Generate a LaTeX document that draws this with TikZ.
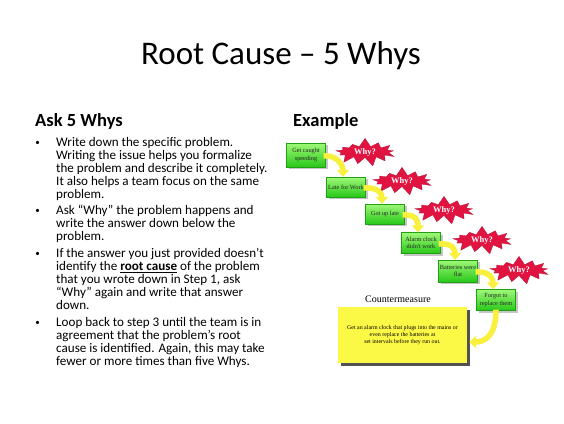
\documentclass[tikz,border=0pt]{standalone}
\usepackage{fontspec}
\setmainfont{Carlito}
\newfontfamily\serif{Liberation Serif}
\usetikzlibrary{shapes.symbols,arrows.meta,shadows,calc}
\definecolor{gtop}{RGB}{160,248,120}
\definecolor{gbot}{RGB}{40,200,25}
\definecolor{crim}{RGB}{225,20,65}
\definecolor{yel}{RGB}{248,240,60}
\definecolor{ybox}{RGB}{252,248,70}
\tikzset{
  greenbox/.style={rectangle, minimum width=39pt, minimum height=21pt, inner sep=1pt,
    top color=gtop, bottom color=gbot, draw=gbot!80!black, line width=0.3pt,
    drop shadow={shadow xshift=2pt, shadow yshift=-2pt, opacity=0.45},
    font=\serif\fontsize{6.3}{7.3}\selectfont, align=center, text=black!85},
  whystar/.style={starburst, starburst points=13, starburst point height=9pt,
    random starburst=7, fill=crim, draw=crim!80!black, line width=0.3pt,
    inner xsep=6pt, inner ysep=0pt,
    font=\serif\bfseries\fontsize{8.5}{9}\selectfont, text=white},
  yarrow/.style={draw=yel, line width=5.5pt, -{Triangle[width=12pt,length=7pt]}},
  bodyline/.style={anchor=base west, inner sep=0pt, font=\fontsize{13.1}{13}\selectfont},
  bullet/.style={anchor=base, inner sep=0pt, font=\fontsize{9}{13}\selectfont},
  heading/.style={anchor=base west, inner sep=0pt, font=\bfseries\fontsize{18.5}{22}\selectfont}
}
\begin{document}
\begin{tikzpicture}[x=1pt,y=-1pt]
\useasboundingbox (0,0) rectangle (564,423);
\fill[white] (0,0) rectangle (564,423);

\node[anchor=base, inner sep=0pt, font=\fontsize{33}{40}\selectfont] (title) at (281,64) {Root Cause – 5 Whys};
\node[heading] (ask) at (35,126) {Ask 5 Whys};
\node[heading] (ex) at (293,126) {Example};

\foreach \yy/\tx [count=\i] in {
 146/{Write down the specific problem.},
 159/{Writing the issue helps you formalize},
 172/{the problem and describe it completely.},
 185/{It also helps a team focus on the same},
 198/{problem.},
 214.7/{Ask “Why” the problem happens and},
 227.7/{write the answer down below the},
 240.7/{problem.},
 257.3/{If the answer you just provided doesn’t},
 270.3/{identify the \textbf{\underline{root cause}} of the problem},
 283.3/{that you wrote down in Step 1, ask},
 296.3/{“Why” again and write that answer},
 309.3/{down.},
 326/{Loop back to step 3 until the team is in},
 339/{agreement that the problem’s root},
 352/{cause is identified. Again, this may take},
 365/{fewer or more times than five Whys.}}
 {\node[bodyline] (l\i) at (56,\yy) {\tx};}
\foreach \yy [count=\i] in {146,214.7,257.3,326}
 {\node[bullet] (bu\i) at (37.5,\yy-1) {•};}

% stars
\node[whystar] (w1) at (365,152) {Why?};
\node[whystar] (w2) at (402,181) {Why?};
\node[whystar] (w3) at (444,210) {Why?};
\node[whystar] (w4) at (482,240) {Why?};
\node[whystar] (w5) at (519,270) {Why?};

% green boxes
\node[greenbox, minimum height=24pt] (b1) at (306,155) {Get caught\\speeding};
\node[greenbox, minimum height=20pt] (b2) at (346,187) {Late for Work};
\node[greenbox, minimum height=20pt] (b3) at (385,214) {Got up late};
\node[greenbox, minimum height=21pt] (b4) at (421,243) {Alarm clock\\didn't work};
\node[greenbox, minimum height=22pt] (b5) at (458,271) {Batteries were\\flat};
\node[greenbox, minimum height=21pt] (b6) at (496,300) {Forgot to\\replace them};

% arrows
\draw[yarrow] ($(b1.east)+(-2,1)$) .. controls +(15,-1) and +(0,-10) .. ($(b2.north)+(-3,0)$);
\draw[yarrow] ($(b2.east)+(-2,1)$) .. controls +(15,-1) and +(0,-10) .. ($(b3.north)+(-3,0)$);
\draw[yarrow] ($(b3.east)+(-2,1)$) .. controls +(15,-1) and +(0,-10) .. ($(b4.north)+(-3,0)$);
\draw[yarrow] ($(b4.east)+(-2,1)$) .. controls +(15,-1) and +(0,-10) .. ($(b5.north)+(-3,0)$);
\draw[yarrow] ($(b5.east)+(-2,1)$) .. controls +(15,-1) and +(0,-10) .. ($(b6.north)+(-3,0)$);

% countermeasure
\node[font=\serif\fontsize{10}{12}\selectfont, inner sep=0pt] (cmt) at (398,299) {Countermeasure};
\node[rectangle, fill=ybox, minimum width=129pt, minimum height=56pt, inner sep=0pt,
  drop shadow={shadow xshift=3pt, shadow yshift=-3pt, fill=black!75, opacity=0.9},
  font=\serif\fontsize{5.9}{6.8}\selectfont, align=center] (cm) at (402.5,335)
  {Get an alarm clock that plugs into the mains or\\even replace the batteries at\\set intervals before they run out.};
\coordinate (cmin) at ($(cm.east)+(2,7)$);
\draw[yarrow] ($(b6.south)+(0,-1)$) .. controls +(0,28) and +(14,0) .. (cmin);
\end{tikzpicture}
\end{document}
